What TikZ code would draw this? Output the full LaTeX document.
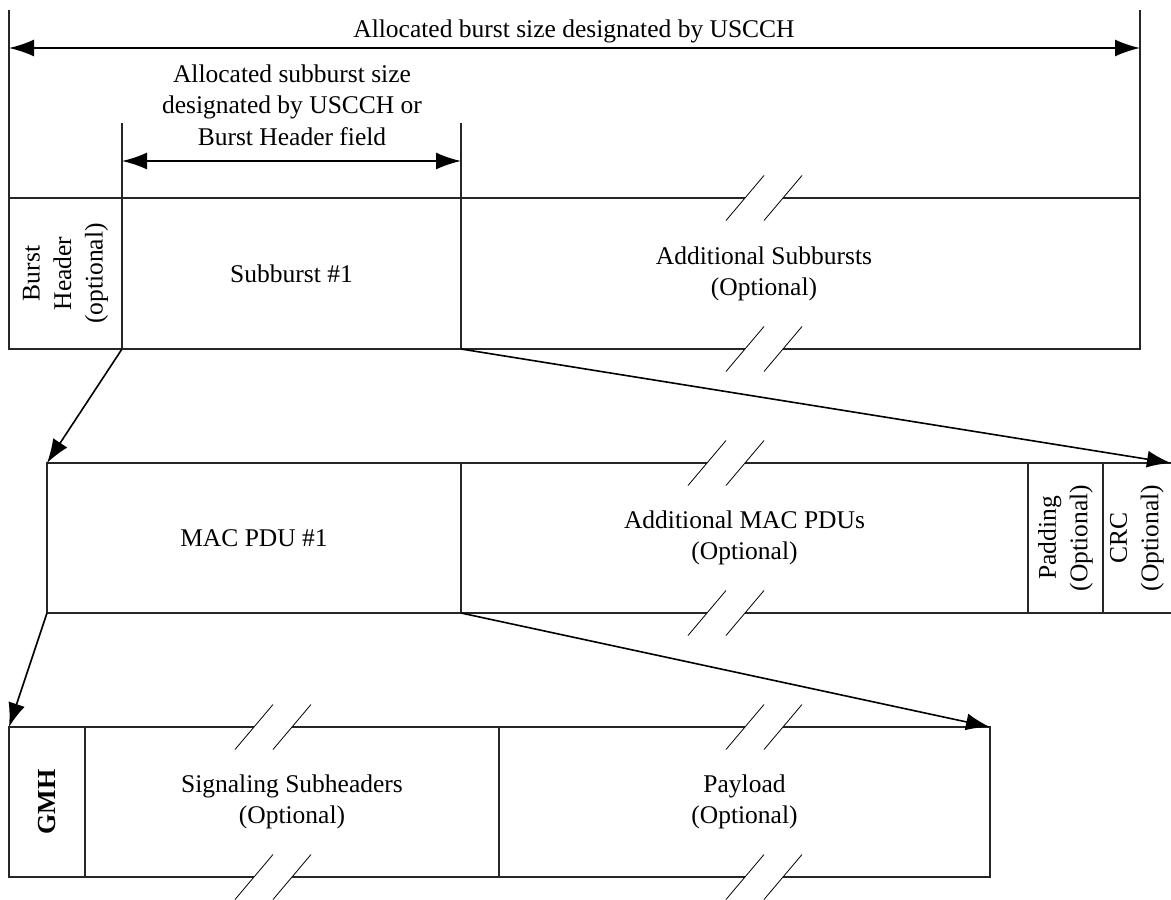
\documentclass[tikz,border=0pt]{standalone}
\usepackage{fontspec}
\setmainfont{Liberation Serif}
\usetikzlibrary{arrows.meta}
\tikzset{
 cell/.style={draw=black!85, line width=1.1pt, inner sep=0pt, outer sep=0pt, anchor=north west,
   font=\fontsize{25.5}{31.5}\selectfont, align=center},
 txt/.style={font=\fontsize{25.5}{31.5}\selectfont, align=center, inner sep=0pt},
 dimarrow/.style={line width=1.8pt, {Latex[length=25pt,width=17pt]}-{Latex[length=25pt,width=17pt]}},
 ptr/.style={line width=1.6pt, -{Latex[length=24pt,width=17pt]}},
 ext/.style={line width=1.1pt, draw=black!85},
 slash/.style={line width=0.8pt},
}
\newcommand\brkmark[2]{%
 \fill[white] (#1,#2+22.5) -- (#1+38,#2-22.5) -- (#1+76,#2-22.5) -- (#1+38,#2+22.5) -- cycle;
 \draw[slash] (#1,#2+22.5) -- (#1+38,#2-22.5) (#1+38,#2+22.5) -- (#1+76,#2-22.5);}
\begin{document}
\begin{tikzpicture}[x=1pt,y=-1pt]
\useasboundingbox (0,0) rectangle (1171,900);
% row 1
\node[cell, minimum width=113pt, minimum height=151pt] (bh) at (9,198) {};
\node[cell, minimum width=339pt, minimum height=151pt] (sb) at (122,198) {Subburst \#1};
\node[cell, minimum width=679pt, minimum height=151pt] (asb) at (461,198) {};
% row 2
\node[cell, minimum width=414pt, minimum height=150pt] (mac) at (47,463) {MAC PDU \#1};
\node[cell, minimum width=567pt, minimum height=150pt] (amac) at (461,463) {Additional MAC PDUs\\(Optional)};
\node[cell, minimum width=75pt, minimum height=150pt] (pad) at (1028,463) {};
\node[cell, draw=none, minimum width=68pt, minimum height=150pt] (crc) at (1103,463) {};
\draw[ext] (crc.north west) -- (crc.north east);
\draw[ext] (crc.south west) -- (crc.south east);
% row 3
\node[cell, minimum width=76pt, minimum height=150pt] (gmh) at (9,727) {};
\node[cell, minimum width=414pt, minimum height=150pt] (sig) at (85,727) {Signaling Subheaders\\(Optional)};
\node[cell, minimum width=491pt, minimum height=150pt] (pay) at (499,727) {Payload\\(Optional)};
% break marks
\brkmark{726}{198}
\brkmark{726}{349}
\brkmark{688}{463}
\brkmark{688}{613}
\brkmark{235}{727}
\brkmark{235}{877}
\brkmark{726}{727}
\brkmark{726}{877}
% texts
\node[txt] (asbt) at (764,274) {Additional Subbursts\\(Optional)};
\node[txt, rotate=90] (bht) at (bh.center) {Burst\\Header\\(optional)};
\node[txt, rotate=90] (padt) at (pad.center) {Padding\\(Optional)};
\node[txt, rotate=90] (crct) at (crc.center) {CRC\\(Optional)};
\node[txt, rotate=90, font=\bfseries\fontsize{26}{30}\selectfont] (gmht) at (gmh.center) {GMH};
% dimension 1
\coordinate (d1a) at (9,10);
\coordinate (d1b) at (1140,10);
\draw[ext] (bh.north west) -- (d1a);
\draw[ext] (asb.north east) -- (d1b);
\coordinate (a1l) at (9,48);
\coordinate (a1r) at (1140,48);
\draw[dimarrow] (a1l) -- (a1r);
\node[txt, anchor=base] (lab1) at (574,37) {Allocated burst size designated by USCCH};
% dimension 2
\coordinate (e2a) at (122,123);
\coordinate (e2b) at (461,123);
\draw[ext] (sb.north west) -- (e2a);
\draw[ext] (sb.north east) -- (e2b);
\coordinate (a2l) at (122,161);
\coordinate (a2r) at (461,161);
\draw[dimarrow] (a2l) -- (a2r);
\node[txt] (lab2) at (292,105) {Allocated subburst size\\designated by USCCH or\\Burst Header field};
% pointers
\draw[ptr] (sb.south west) -- (mac.north west);
\draw[ptr] (sb.south east) -- (crc.north east);
\draw[ptr] (mac.south west) -- (gmh.north west);
\draw[ptr] (mac.south east) -- (pay.north east);
\end{tikzpicture}
\end{document}
